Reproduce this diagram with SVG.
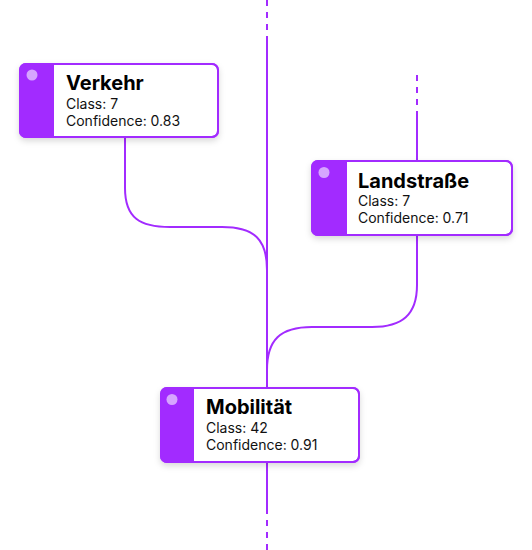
<svg xmlns="http://www.w3.org/2000/svg" width="532" height="550" viewBox="0 0 532 550">
<style>
.edge{fill:none;stroke:#a22bff;stroke-width:2}
.dash{fill:none;stroke:#a22bff;stroke-width:2;stroke-dasharray:6 6}
.box{fill:#fff;stroke:#a22bff;stroke-width:2}
.strip{fill:#a22bff}
.dot{fill:#d6a5ff}
.title{font-family:Inter,"Liberation Sans",sans-serif;font-weight:700;font-size:20px;fill:#000}
.body{font-family:Inter,"Liberation Sans",sans-serif;font-size:14px;fill:#111}
</style>
<defs>
<filter id="sh" x="-20%" y="-20%" width="140%" height="160%">
<feDropShadow dx="0" dy="3" stdDeviation="3" flood-color="#000" flood-opacity="0.15"/>
</filter>
<clipPath id="cv"><rect x="20" y="64" width="198" height="73" rx="6"/></clipPath>
<clipPath id="cl"><rect x="312" y="161" width="200" height="74" rx="6"/></clipPath>
<clipPath id="cm"><rect x="161" y="388" width="198" height="74" rx="6"/></clipPath>
</defs>
<g id="connectors">
<path class="dash" d="M267,0 V36"/>
<path class="edge" d="M267,36 V388"/>
<path class="edge" d="M267,462 V514"/>
<path class="dash" d="M267,520 V550"/>
<path class="dash" d="M417,75 V111"/>
<path class="edge" d="M417,111 V161"/>
<path class="edge" d="M125,137 V188 C125,218 140,227 170,227 H222 C255,227 267,240 267,270"/>
<path class="edge" d="M417,235 V285 C417,315 402,327 372,327 H312 C280,327 267,340 267,370"/>
</g>
<g id="node-verkehr">
<rect class="box" x="20" y="64" width="198" height="73" rx="6" filter="url(#sh)"/>
<rect class="strip" x="20" y="64" width="34" height="73" clip-path="url(#cv)"/>
<rect x="20" y="64" width="198" height="73" rx="6" fill="none" stroke="#a22bff" stroke-width="2"/>
<circle class="dot" cx="32" cy="75" r="5.5"/>
<text class="title" x="66" y="90">Verkehr</text>
<text class="body" x="66" y="108.5">Class: 7</text>
<text class="body" x="66" y="125.5">Confidence: 0.83</text>
</g>
<g id="node-landstrasse">
<rect class="box" x="312" y="161" width="200" height="74" rx="6" filter="url(#sh)"/>
<rect class="strip" x="312" y="161" width="35" height="74" clip-path="url(#cl)"/>
<rect x="312" y="161" width="200" height="74" rx="6" fill="none" stroke="#a22bff" stroke-width="2"/>
<circle class="dot" cx="324" cy="172.5" r="5.5"/>
<text class="title" x="358" y="188">Landstraße</text>
<text class="body" x="358" y="206">Class: 7</text>
<text class="body" x="358" y="223">Confidence: 0.71</text>
</g>
<g id="node-mobilitaet">
<rect class="box" x="161" y="388" width="198" height="74" rx="6" filter="url(#sh)"/>
<rect class="strip" x="161" y="388" width="33" height="74" clip-path="url(#cm)"/>
<rect x="161" y="388" width="198" height="74" rx="6" fill="none" stroke="#a22bff" stroke-width="2"/>
<circle class="dot" cx="172" cy="399.5" r="5.5"/>
<text class="title" x="206" y="414">Mobilität</text>
<text class="body" x="206" y="433">Class: 42</text>
<text class="body" x="206" y="450">Confidence: 0.91</text>
</g>
</svg>
